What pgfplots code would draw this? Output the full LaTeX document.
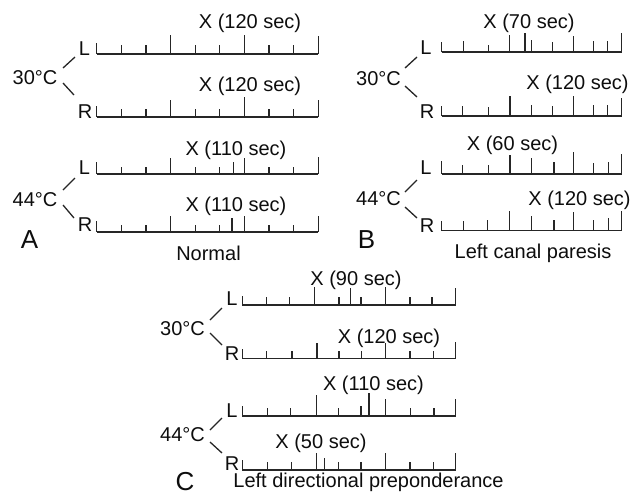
\documentclass[border=0pt]{standalone}
\usepackage{fontspec}
\setmainfont{Liberation Sans}
\usepackage{pgfplots}
\pgfplotsset{compat=1.18}

% one time line = one hidden axis, 0-180 s, 1 y unit = 1 px
\pgfplotsset{
  caloric/.style={hide axis, scale only axis, clip=false, anchor=south west,
    xmin=0, xmax=180, ymin=0, ymax=25, height=12.5pt},
}
\newcommand{\tline}[4]{%
  \begin{axis}[caloric, at={(#1*0.5pt,-#2*0.5pt)}, width=#3]
    \addplot[black!85, line width=0.9pt, no marks] coordinates {(0,0) (180,0)};
    \addplot[black!85, line width=0.65pt, ycomb, no marks] coordinates {#4};
  \end{axis}}

\begin{document}
\begin{tikzpicture}
\path[use as bounding box] (0,0) rectangle (320.5pt,-250pt);
\begin{scope}[x=0.5pt, y=-0.5pt, every node/.style={inner sep=0pt, text=black!95,
    font=\fontsize{10}{12}\selectfont}]
  % A
  \node at (35,78) {30°C};
  \node at (35,199.5) {44°C};
  \node at (84.5,48.5) {L};
  \node at (85,112) {R};
  \node at (84.5,167.5) {L};
  \node at (85,225) {R};
  \node at (250,23.5) {X (120 sec)};
  \node at (250,86.5) {X (120 sec)};
  \node at (236,150.5) {X (110 sec)};
  \node at (236,206.5) {X (110 sec)};
  \node[font=\fontsize{13}{15}\selectfont] at (29.5,240) {A};
  \node at (208.5,253.5) {Normal};
  % B
  \node at (378.5,79) {30°C};
  \node at (378.5,198.5) {44°C};
  \node at (426,47.5) {L};
  \node at (427,112) {R};
  \node at (426,167.5) {L};
  \node at (427,226) {R};
  \node at (529,23.5) {X (70 sec)};
  \node at (577.5,84) {X (120 sec)};
  \node at (512.5,145) {X (60 sec)};
  \node at (579.5,200.5) {X (120 sec)};
  \node[font=\fontsize{13}{15}\selectfont] at (366.5,240) {B};
  \node at (533,253.5) {Left canal paresis};
  % C
  \node at (182.5,328.5) {30°C};
  \node at (182.5,435) {44°C};
  \node at (232,299) {L};
  \node at (232,354) {R};
  \node at (232,411) {L};
  \node at (232,464) {R};
  \node at (356,280) {X (90 sec)};
  \node at (389,338.5) {X (120 sec)};
  \node at (373.5,385) {X (110 sec)};
  \node at (321,443.5) {X (50 sec)};
  \node[font=\fontsize{13}{15}\selectfont] at (185,481.5) {C};
  \node[anchor=west] at (233,482) {Left directional preponderance};
  % branches from temperature to L/R
  \begin{scope}[black!85, line width=0.65pt]
    \draw (63,68)--(75,57) (63,83)--(74,95) (63,190)--(75,178) (63,205)--(74,218);
    \draw (405,68)--(417,57) (405,86)--(417,97) (405,192)--(417,180) (405,207)--(417,218);
    \draw (210,320)--(222,308) (210,333)--(222,345) (210,430)--(222,418) (210,442)--(222,453);
  \end{scope}
\end{scope}

% A: Normal
\tline{96.7}{54}{110.8pt}{(0,11) (20,9) (40,9) (60,19) (80,9) (100,9) (120,19) (140,9) (160,9) (180,18) (120,19)}
\tline{96.7}{117}{110.8pt}{(0,11) (20,8) (40,8) (60,17) (80,8) (100,8) (120,17) (140,8) (160,8) (180,17) (120,20)}
\tline{96.7}{174}{110.8pt}{(0,12) (20,7) (40,7) (60,16) (80,7) (100,7) (120,16) (140,7) (160,7) (180,17) (111,12)}
\tline{96.7}{231.7}{110.8pt}{(0,11) (20,7) (40,7) (60,16) (80,7) (100,7) (120,16) (140,7) (160,7) (180,16) (110,14)}
% B: Left canal paresis
\tline{441.7}{52.3}{90pt}{(0,10) (21.7,11) (46.7,7) (67.7,17) (90,12) (111,10) (131.7,16) (151.7,11) (166,11) (180,19) (83.3,19)}
\tline{441.7}{116}{90pt}{(0,10) (21,10) (46.7,9) (68.3,20) (90,11) (111,10) (131.7,20) (151.7,11) (166,11) (180,18) (131.7,20)}
\tline{441.7}{173.7}{90pt}{(0,13) (20.7,9) (46.7,9) (68.3,19) (90,16) (112.3,12) (131.7,22) (151.7,11) (166.7,12) (180,20) (68.3,19)}
\tline{441.7}{230.5}{90pt}{(0,10) (21.7,10) (45.7,11) (67.7,20) (90,15) (112.3,11) (131.7,19) (151.7,11) (166.7,13) (180,20) (131.7,19)}
% C: Left directional preponderance
\tline{242.3}{305}{106.7pt}{(0,9) (20.5,8) (40,8) (61,18) (81.5,8) (100,8) (121,18) (141.5,8) (160,8) (180,17) (91.5,17)}
\tline{242.3}{358.5}{106.7pt}{(0,10) (20.5,8) (42,8) (63,16) (81.5,8) (100.5,8) (121,16) (141.5,8) (161,8) (180,17) (121,16)}
\tline{242.3}{416}{106.7pt}{(0,10) (21.1,8) (40.5,8) (62.7,21) (81,8) (100.1,10) (121,17) (141.9,8) (161.7,8) (180,17) (106.9,23)}
\tline{242.3}{470}{106.7pt}{(0,10) (21.1,8) (41.6,8) (62.7,17) (81,8) (100.1,8) (121,17) (141.5,8) (161.2,8) (180,17) (69.2,12)}
\end{tikzpicture}
\end{document}
